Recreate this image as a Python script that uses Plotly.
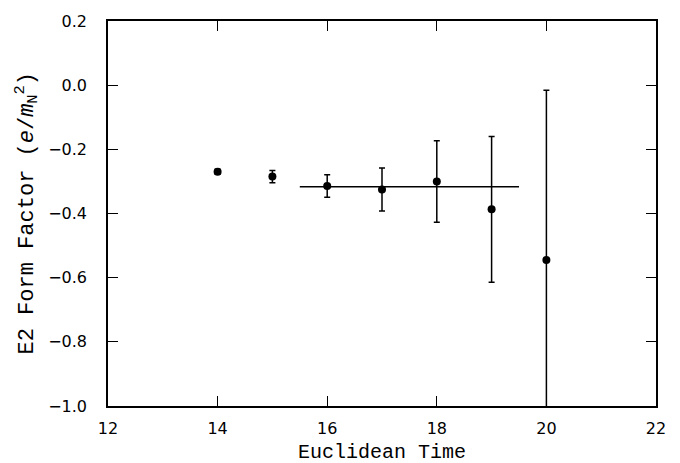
import plotly.graph_objects as go

t = [14, 15, 16, 17, 18, 19, 20]
e2 = [-0.270, -0.285, -0.314, -0.325, -0.300, -0.387, -0.545]
err = [0.008, 0.019, 0.035, 0.067, 0.127, 0.227, 0.529]
fit_t = [15.5, 19.5]
fit_v = [-0.317, -0.317]

xticks = [12, 14, 16, 18, 20, 22]
yticks = [0.2, 0.0, -0.2, -0.4, -0.6, -0.8, -1.0]
ytext = ["0.2", "0.0", "\u22120.2", "\u22120.4", "\u22120.6", "\u22120.8", "\u22121.0"]

mono = "Liberation Mono, Courier New, monospace"

fig = go.Figure()
fig.add_trace(go.Scatter(x=fit_t, y=fit_v, mode="lines",
                         line=dict(color="black", width=1.5), showlegend=False))
fig.add_trace(go.Scatter(x=t, y=e2, mode="markers",
                         marker=dict(color="black", size=8),
                         error_y=dict(type="data", array=err, color="black",
                                      thickness=1.5, width=3),
                         showlegend=False))

axis_common = dict(showline=True, linecolor="black", linewidth=1.5, mirror="ticks",
                   ticks="inside", ticklen=10, tickwidth=1.2, tickcolor="black",
                   showgrid=False, zeroline=False,
                   tickfont=dict(family="DejaVu Sans, Arial, sans-serif", size=16, color="black"))

fig.update_layout(
    width=680, height=463,
    margin=dict(l=108, r=24, t=17, b=57),
    paper_bgcolor="white", plot_bgcolor="white",
    xaxis=dict(range=[12, 22], tickvals=xticks, ticktext=[str(v) for v in xticks],
               ticklabelstandoff=7, **axis_common),
    yaxis=dict(range=[-1.0, 0.2], tickvals=yticks, ticktext=ytext,
               ticklabelstandoff=16, **axis_common),
    annotations=[
        dict(text="Euclidean Time", xref="paper", yref="paper", x=0.5, y=0,
             xanchor="center", yanchor="middle", yshift=-46, showarrow=False,
             font=dict(family=mono, size=20, color="black")),
        dict(text="E2 Form Factor (<i>e</i>/<i>m</i><sub>N</sub><sup>2</sup>)",
             xref="paper", yref="paper", x=0, y=0.5, textangle=-90,
             xanchor="center", yanchor="middle", xshift=-82, showarrow=False,
             font=dict(family=mono, size=22, color="black")),
    ],
)

fig.write_html("out.html")
